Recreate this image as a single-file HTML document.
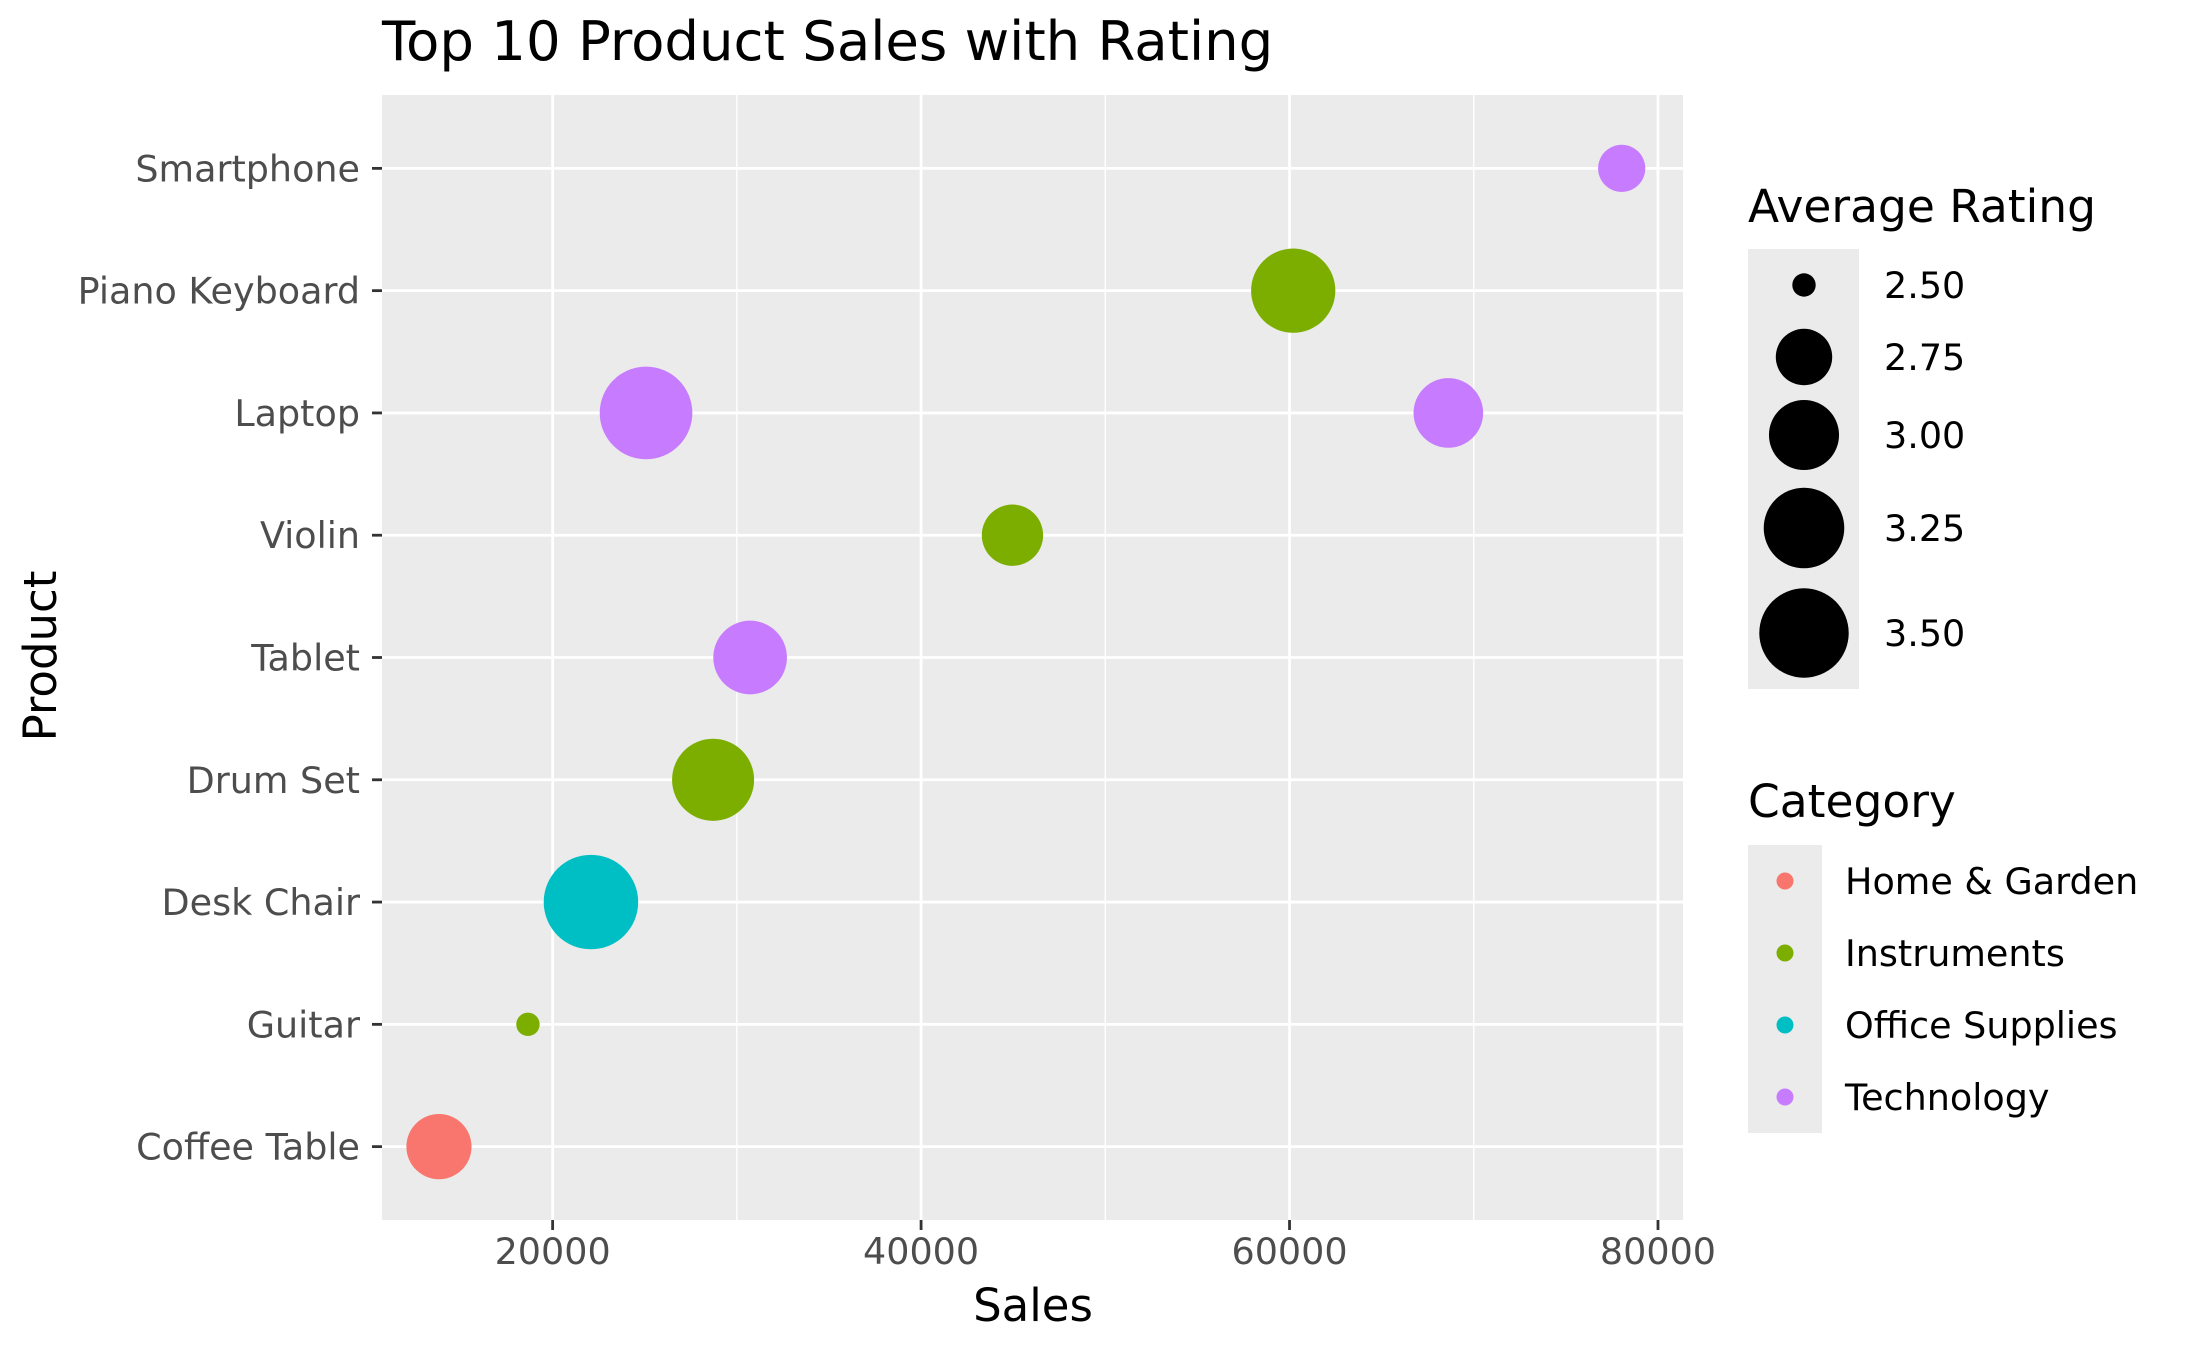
<!DOCTYPE html>
<html><head><meta charset="utf-8">
<style>
html,body{margin:0;padding:0;background:#fff;}
svg{display:block;font-family:"DejaVu Sans","Liberation Sans",sans-serif;}
</style></head>
<body>
<svg id="chart" width="2185" height="1350" viewBox="0 0 2185 1350">
<text x="382" y="60" font-size="54.5" fill="#000">Top 10 Product Sales with Rating</text>
<rect x="382" y="95" width="1301" height="1125" fill="#EBEBEB"/>
<g id="grid"></g>
<g id="points"></g>
<g id="axes"></g>
<text x="1033" y="1321" font-size="45" text-anchor="middle" fill="#000">Sales</text>
<text transform="translate(56,656) rotate(-90)" font-size="45" text-anchor="middle" fill="#000">Product</text>
<g transform="translate(-9,0)">
<g>
<text x="1757" y="222" font-size="45.5" fill="#000">Average Rating</text>
<rect x="1757" y="249" width="111" height="440" fill="#EBEBEB"/>
<g id="sizeLegend"></g>
</g>
<g>
<text x="1757" y="817" font-size="45.5" fill="#000">Category</text>
<rect x="1757" y="845" width="74" height="288" fill="#EBEBEB"/>
<g id="colorLegend"></g>
</g>
</g>
</svg>
<script>
const products = ["Coffee Table","Guitar","Desk Chair","Drum Set","Tablet","Violin","Laptop","Piano Keyboard","Smartphone"];
const pointProducts = ["Smartphone","Piano Keyboard","Laptop","Laptop","Violin","Tablet","Drum Set","Desk Chair","Guitar","Coffee Table"];
const pointSales = [78030,60200,25070,68620,44960,30720,28710,22080,18660,13830];
const pointRatings = [2.63,3.35,3.60,2.99,2.83,3.08,3.29,3.66,2.50,2.90];
const pointCategories = ["Technology","Instruments","Technology","Technology","Instruments","Technology","Instruments","Office Supplies","Instruments","Home & Garden"];
const categories = ["Home & Garden","Instruments","Office Supplies","Technology"];
const categoryColors = ["#F8766D","#7CAE00","#00BFC4","#C77CFF"];
const xTicks = [20000,40000,60000,80000];
const xMinor = [30000,50000,70000];
const sizeBreaks = [2.5,2.75,3.0,3.25,3.5];
const sizeLabels = ["2.50","2.75","3.00","3.25","3.50"];

const NS="http://www.w3.org/2000/svg";
const PL=382,PR=1683,PT=95,PB=1220;
const XMIN=10738,XMAX=81358;
function xs(v){return PL+(v-XMIN)/(XMAX-XMIN)*(PR-PL);}
const step=(PB-PT)/(products.length+0.2);
function ys(p){const i=products.indexOf(p);return PB-step*0.6-i*step;}
function rs(v){return 11.7+33*Math.sqrt(Math.max(0,v-2.5));}
function mk(tag,attrs,parent){const e=document.createElementNS(NS,tag);for(const k in attrs)e.setAttribute(k,attrs[k]);parent.appendChild(e);return e;}
const grid=document.getElementById('grid'),pts=document.getElementById('points'),axes=document.getElementById('axes');
xMinor.forEach(v=>{const l=mk('line',{x1:xs(v),x2:xs(v),y1:PT,y2:PB,stroke:'#fff','stroke-width':1.4},grid);

});
xTicks.forEach(v=>{const l=mk('line',{x1:xs(v),x2:xs(v),y1:PT,y2:PB,stroke:'#fff','stroke-width':2.8},grid);


const t=mk('line',{x1:xs(v),x2:xs(v),y1:PB,y2:PB+10,stroke:'#333','stroke-width':2.8},axes);


const tx=mk('text',{x:xs(v),y:PB+44,'font-size':36.5,'text-anchor':'middle',fill:'#4D4D4D'},axes);tx.textContent=v;

});
products.forEach(p=>{const y=ys(p);
const l=mk('line',{x1:PL,x2:PR,y1:y,y2:y,stroke:'#fff','stroke-width':2.8},grid);


const t=mk('line',{x1:PL-10,x2:PL,y1:y,y2:y,stroke:'#333','stroke-width':2.8},axes);


const tx=mk('text',{x:PL-22,y:y+13,'font-size':36.5,'text-anchor':'end',fill:'#4D4D4D'},axes);tx.textContent=p;

});
pointProducts.forEach((p,i)=>{const c=mk('circle',{cx:xs(pointSales[i]),cy:ys(p),r:rs(pointRatings[i]),fill:categoryColors[categories.indexOf(pointCategories[i])]},pts);

});
const sl=document.getElementById('sizeLegend');
const sizeY=[285,357,435,528,633];
sizeBreaks.forEach((b,i)=>{const c=mk('circle',{cx:1813,cy:sizeY[i],r:rs(b),fill:'#000'},sl);


const t=mk('text',{x:1893,y:sizeY[i]+13,'font-size':36.5,fill:'#000'},sl);t.textContent=sizeLabels[i];

});
const cl=document.getElementById('colorLegend');
const catY=[881,953,1025,1097];
categories.forEach((c,i)=>{const k=mk('circle',{cx:1794,cy:catY[i],r:8.5,fill:categoryColors[i]},cl);


const t=mk('text',{x:1854,y:catY[i]+13,'font-size':36.5,fill:'#000'},cl);t.textContent=c;

});
</script>
</body></html>
